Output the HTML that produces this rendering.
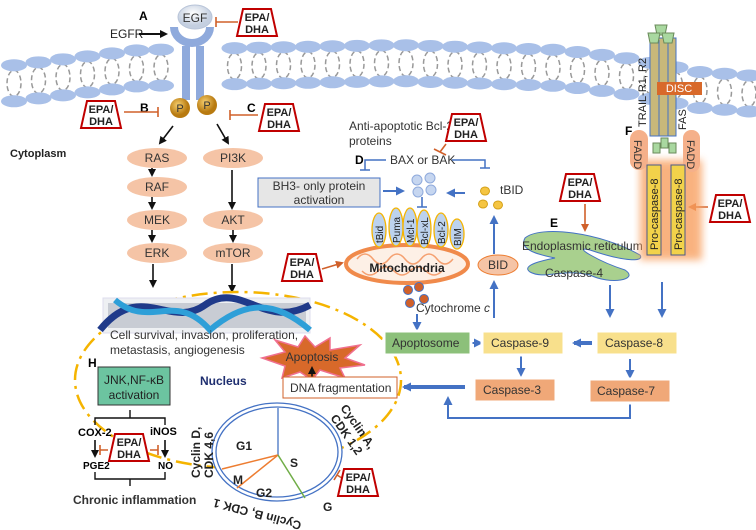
<!DOCTYPE html>
<html><head><meta charset="utf-8"><style>
html,body{margin:0;padding:0;background:#fff}
svg{display:block}
text{font-family:"Liberation Sans",sans-serif}
</style></head><body>
<svg id="s" width="756" height="530" viewBox="0 0 756 530" xmlns="http://www.w3.org/2000/svg">
<defs>
<marker id="ab" markerWidth="8" markerHeight="8" refX="6" refY="4" orient="auto" markerUnits="userSpaceOnUse"><path d="M0,0 L8,4 L0,8 z" fill="#111"/></marker>
<marker id="au" markerWidth="9" markerHeight="9" refX="7" refY="4.5" orient="auto" markerUnits="userSpaceOnUse"><path d="M0,0 L9,4.5 L0,9 z" fill="#4472c4"/></marker>
<marker id="ao" markerWidth="8" markerHeight="8" refX="6" refY="4" orient="auto" markerUnits="userSpaceOnUse"><path d="M0,0 L8,4 L0,8 z" fill="#d0602a"/></marker>
<radialGradient id="pg" cx="40%" cy="35%"><stop offset="0" stop-color="#f7d070"/><stop offset="1" stop-color="#b87a10"/></radialGradient>
<radialGradient id="eg" cx="45%" cy="35%"><stop offset="0" stop-color="#fff"/><stop offset="1" stop-color="#c4cfe0"/></radialGradient>
<filter id="bl"><feGaussianBlur stdDeviation="4"/></filter>
</defs>
<g id="mem"></g>

<!-- EGFR -->
<path d="M170,27 A22,20 0 0 0 214,27 L206,27 A14,12 0 0 1 178,27 Z" fill="#8faadc"/>
<ellipse cx="195" cy="17" rx="17" ry="12" fill="url(#eg)" stroke="#b8c4d8"/>
<text x="195" y="22" font-size="12" text-anchor="middle" fill="#333">EGF</text>
<rect x="182" y="46" width="8" height="54" fill="#8faadc"/>
<rect x="196" y="46" width="8" height="54" fill="#8faadc"/>
<circle cx="180" cy="108" r="10" fill="url(#pg)"/><text x="180" y="112" font-size="11" text-anchor="middle" fill="#333">P</text>
<circle cx="207" cy="105" r="10" fill="url(#pg)"/><text x="207" y="109" font-size="11" text-anchor="middle" fill="#333">P</text>
<text x="139" y="20" font-size="12" font-weight="bold">A</text>
<text x="110" y="38" font-size="12" fill="#222">EGFR</text>
<line x1="139" y1="34" x2="166" y2="34" stroke="#111" stroke-width="2" marker-end="url(#ab)"/>
<text x="140" y="112" font-size="12" font-weight="bold">B</text>
<text x="247" y="112" font-size="12" font-weight="bold">C</text>
<text x="10" y="157" font-size="11" font-weight="bold" fill="#222">Cytoplasm</text>

<!-- inhibitors -->
<g stroke="#d0602a" stroke-width="1.6" fill="none">
<path d="M238,22 H216 M216,17 V27"/>
<path d="M124,112 H158 M158,107 V117"/>
<path d="M258,115 H230 M230,110 V120"/>
<path d="M446,144 L440,152 M434,149 L446,155"/>
<path d="M100,450 H108 M100,445 V455"/>
<path d="M150,450 H158 M158,445 V455"/>
<path d="M345,480 L337,475 M334,480 L340,470"/>
</g>
<g stroke="#d0602a" stroke-width="1.6">
<line x1="322" y1="269" x2="342" y2="263" marker-end="url(#ao)"/>
<line x1="585" y1="204" x2="585" y2="230" marker-end="url(#ao)"/>
<line x1="708" y1="207" x2="690" y2="207" marker-end="url(#ao)"/>
</g>

<!-- pathway -->
<g fill="#f5c4a6">
<ellipse cx="157" cy="158" rx="30" ry="10"/><ellipse cx="157" cy="187" rx="30" ry="10"/>
<ellipse cx="157" cy="220" rx="30" ry="10"/><ellipse cx="157" cy="253" rx="30" ry="10"/>
<ellipse cx="233" cy="158" rx="30" ry="10"/><ellipse cx="233" cy="220" rx="30" ry="10"/>
<ellipse cx="233" cy="253" rx="30" ry="10"/>
</g>
<g font-size="12" text-anchor="middle" fill="#333">
<text x="157" y="162">RAS</text><text x="157" y="191">RAF</text><text x="157" y="224">MEK</text><text x="157" y="257">ERK</text>
<text x="233" y="162">PI3K</text><text x="233" y="224">AKT</text><text x="233" y="257">mTOR</text>
</g>
<g stroke="#111" stroke-width="1.6" marker-end="url(#ab)">
<line x1="173" y1="126" x2="160" y2="143"/><line x1="217" y1="124" x2="228" y2="143"/>
<line x1="152" y1="168" x2="152" y2="175"/><line x1="152" y1="197" x2="152" y2="208"/><line x1="152" y1="230" x2="152" y2="241"/>
<line x1="232" y1="170" x2="232" y2="208"/><line x1="233" y1="230" x2="233" y2="241"/>
<line x1="153" y1="264" x2="153" y2="286"/><line x1="232" y1="264" x2="232" y2="291"/>
</g>

<!-- nucleus -->
<ellipse cx="238" cy="380" rx="163" ry="88" fill="none" stroke="#f5b400" stroke-width="2.5" stroke-dasharray="16,6,3,6"/>
<rect x="103" y="298" width="207" height="35" fill="#eef0f3" stroke="#dde"/>
<rect x="108" y="303" width="198" height="25" fill="#c8ccd4"/>
<path d="M100,330 C140,280 170,330 205,305 C240,280 265,330 310,305" stroke="#1f3a8a" stroke-width="7" fill="none"/>
<path d="M115,300 C150,330 175,290 210,330 C245,300 275,300 310,330" stroke="#2e9fd8" stroke-width="6" fill="none"/>
<text x="110" y="339" font-size="12" fill="#333">Cell survival, invasion, proliferation,</text>
<text x="110" y="354" font-size="12" fill="#333">metastasis, angiogenesis</text>
<polygon points="262,358 285,352 275,340 298,347 305,336 315,347 330,338 330,350 360,345 345,358 365,365 340,368 345,378 320,370 312,380 300,372 282,378 285,366" fill="#d8692a" stroke="#f07090" stroke-width="1.5"/>
<text x="312" y="361" font-size="12" text-anchor="middle" fill="#333">Apoptosis</text>
<line x1="312" y1="377" x2="312" y2="368" stroke="#111" stroke-width="1.6" marker-end="url(#ab)"/>
<rect x="283" y="377" width="114" height="21" fill="#fff" stroke="#d0602a"/>
<text x="290" y="392" font-size="12" fill="#333">DNA fragmentation</text>
<text x="200" y="385" font-size="12" font-weight="bold" fill="#1f2f70">Nucleus</text>
<text x="88" y="367" font-size="12" font-weight="bold">H</text>
<rect x="98" y="367" width="72" height="38" fill="#6cc4a0" stroke="#333"/>
<text x="134" y="384" font-size="12" text-anchor="middle" fill="#222">JNK,NF-κB</text>
<text x="134" y="399" font-size="12" text-anchor="middle" fill="#222">activation</text>
<path d="M95,425 V418 H165 V425 M130,418 V410" stroke="#111" stroke-width="1.4" fill="none"/>
<text x="78" y="436" font-size="11" font-weight="bold">COX-2</text>
<text x="150" y="435" font-size="11" font-weight="bold">iNOS</text>
<line x1="95" y1="440" x2="95" y2="456" stroke="#111" stroke-width="1.6" marker-end="url(#ab)"/>
<line x1="165" y1="440" x2="165" y2="456" stroke="#111" stroke-width="1.6" marker-end="url(#ab)"/>
<text x="83" y="469" font-size="10" font-weight="bold">PGE2</text>
<text x="158" y="469" font-size="10" font-weight="bold">NO</text>
<path d="M95,472 V479 H165 V472 M130,479 V486" stroke="#111" stroke-width="1.4" fill="none"/>
<text x="73" y="504" font-size="12" font-weight="bold" fill="#333">Chronic inflammation</text>

<!-- cell cycle -->
<ellipse cx="277" cy="452" rx="65" ry="49" fill="#fff" stroke="#4472c4" stroke-width="1.3"/>
<ellipse cx="277" cy="452" rx="61" ry="45" fill="none" stroke="#4472c4" stroke-width="1.3"/>
<line x1="278" y1="455" x2="278" y2="408" stroke="#4472c4" stroke-width="1.3"/>
<line x1="278" y1="455" x2="222" y2="469" stroke="#ed7d31" stroke-width="1.5"/>
<line x1="278" y1="455" x2="237" y2="488" stroke="#ed7d31" stroke-width="1.5"/>
<line x1="278" y1="455" x2="305" y2="498" stroke="#70ad47" stroke-width="1.5"/>
<g font-size="12" font-weight="bold" fill="#222">
<text x="236" y="450">G1</text><text x="290" y="467">S</text><text x="233" y="484">M</text><text x="256" y="497">G2</text><text x="323" y="511">G</text>
<text transform="translate(200,478) rotate(-90)">Cyclin D,</text>
<text transform="translate(213,478) rotate(-90)">CDK 4,6</text>
<text transform="translate(340,408) rotate(55)">Cyclin A,</text>
<text transform="translate(330,418) rotate(55)">CDK 1,2</text>
<text transform="translate(302,522) rotate(195)">Cyclin B, CDK 1</text>
</g>

<!-- apoptosis right -->
<text x="349" y="130" font-size="12" fill="#333">Anti-apoptotic Bcl-2</text>
<text x="349" y="145" font-size="12" fill="#333">proteins</text>
<text x="355" y="164" font-size="12" font-weight="bold">D</text>
<text x="390" y="164" font-size="12" fill="#333">BAX or BAK</text>
<path d="M386,160 H365 V170 M360,170 H370 M452,160 H485 V168 M480,168 H490" stroke="#4472c4" stroke-width="1.5" fill="none"/>
<rect x="258" y="178" width="122" height="29" fill="#e6e6e6" stroke="#4472c4"/>
<text x="319" y="190" font-size="12" text-anchor="middle" fill="#333">BH3- only protein</text>
<text x="319" y="204" font-size="12" text-anchor="middle" fill="#333">activation</text>
<g fill="#c6d6f0" stroke="#8faadc"><circle cx="417" cy="180" r="5"/><circle cx="430" cy="178" r="5"/><circle cx="418" cy="192" r="5"/><circle cx="431" cy="190" r="5"/></g>
<g fill="#f5c542" stroke="#d4a017"><ellipse cx="485" cy="191" rx="4.5" ry="4"/><ellipse cx="483" cy="204" rx="4.5" ry="4"/><ellipse cx="498" cy="205" rx="4.5" ry="4"/></g>
<text x="500" y="194" font-size="12" fill="#333">tBID</text>
<g stroke="#4472c4" stroke-width="2" marker-end="url(#au)">
<line x1="383" y1="191" x2="403" y2="191"/><line x1="465" y1="193" x2="448" y2="193"/>
<line x1="494" y1="254" x2="494" y2="217"/><line x1="494" y1="318" x2="494" y2="282"/>
<line x1="417" y1="314" x2="417" y2="329"/><line x1="470" y1="343" x2="481" y2="343"/>
<line x1="521" y1="355" x2="521" y2="375"/><line x1="630" y1="359" x2="630" y2="377"/>
<line x1="610" y1="285" x2="610" y2="316"/><line x1="662" y1="282" x2="662" y2="316"/>
</g>
<g stroke="#4472c4" stroke-width="4" marker-end="url(#au)"><line x1="592" y1="343" x2="574" y2="343"/><line x1="465" y1="387" x2="404" y2="387"/></g>
<path d="M630,403 V418 H448 V398" stroke="#4472c4" stroke-width="2" fill="none" marker-end="url(#au)"/>
<path d="M422,197 V207 M417,207 H427" stroke="#4472c4" stroke-width="1.6"/>
<ellipse cx="407" cy="264" rx="61" ry="19" fill="#fdf0e6" stroke="#f08a4b" stroke-width="4"/>
<path d="M357,259 q8,-10 16,0 t16,0 t16,0 t16,0 t16,0 t16,0 M362,271 q8,8 16,0 t16,0 t16,0 t16,0 t16,0" stroke="#f5a070" fill="none" stroke-width="1.5"/>
<g fill="#bcd2ee" stroke="#f5b400" stroke-width="1.3">
<ellipse cx="379" cy="230" rx="7" ry="17"/><ellipse cx="396" cy="227" rx="7" ry="19"/><ellipse cx="410" cy="227" rx="7" ry="19"/>
<ellipse cx="424" cy="229" rx="7" ry="19"/><ellipse cx="441" cy="230" rx="7" ry="17"/><ellipse cx="457" cy="234" rx="7" ry="15"/>
</g>
<g font-size="10" fill="#222">
<text transform="translate(383,243) rotate(-90)">tBid</text><text transform="translate(400,243) rotate(-90)">Puma</text>
<text transform="translate(414,243) rotate(-90)">Mcl-1</text><text transform="translate(428,245) rotate(-90)">Bcl-xL</text>
<text transform="translate(445,244) rotate(-90)">Bcl-2</text><text transform="translate(461,246) rotate(-90)">BIM</text>
</g>
<text x="407" y="272" font-size="12" font-weight="bold" text-anchor="middle" fill="#222">Mitochondria</text>
<g fill="#d0602a" stroke="#4472c4"><circle cx="408" cy="290" r="4.5"/><circle cx="419" cy="287" r="4.5"/><circle cx="410" cy="303" r="4.5"/><circle cx="424" cy="299" r="4.5"/></g>
<text x="416" y="312" font-size="12" fill="#333">Cytochrome <tspan font-style="italic">c</tspan></text>
<ellipse cx="498" cy="265" rx="20" ry="10" fill="#f5c4a6" stroke="#ed7d31"/>
<text x="498" y="269" font-size="12" text-anchor="middle" fill="#333">BID</text>

<!-- boxes -->
<g stroke="#fff" stroke-width="3">
<rect x="384" y="331" width="87" height="24" fill="#8cc07a"/>
<rect x="482" y="331" width="82" height="24" fill="#f8e08c"/>
<rect x="596" y="331" width="82" height="24" fill="#f8e08c"/>
<rect x="474" y="378" width="82" height="24" fill="#f0a878"/>
<rect x="589" y="379" width="82" height="24" fill="#f0a878"/>
</g>
<g font-size="12" fill="#333">
<text x="392" y="347">Apoptosome</text><text x="491" y="347">Caspase-9</text><text x="605" y="347">Caspase-8</text>
<text x="483" y="394">Caspase-3</text><text x="597" y="395">Caspase-7</text>
</g>

<!-- ER -->
<path d="M525,238 C540,225 600,232 640,255 C645,262 625,262 590,250 C570,245 600,262 625,270 C640,280 610,285 590,275 C560,268 545,280 530,272 C520,265 545,260 555,258 C540,255 518,250 525,238 Z" fill="#a9d08e" stroke="#4472c4"/>
<text x="550" y="227" font-size="12" font-weight="bold">E</text>
<text x="522" y="250" font-size="12" fill="#333">Endoplasmic reticulum</text>
<text x="545" y="277" font-size="12" fill="#333">Caspase-4</text>

<!-- receptor -->
<rect x="640" y="160" width="62" height="100" fill="#f8a060" filter="url(#bl)" opacity="0.8"/>
<rect x="650" y="38" width="26" height="98" fill="#c8b87a" stroke="#4472c4"/>
<line x1="659" y1="40" x2="659" y2="136" stroke="#4472c4"/><line x1="668" y1="40" x2="668" y2="136" stroke="#4472c4"/>
<g fill="#a9d8a0" stroke="#6a8a5a"><path d="M655,25 h12 l-2,10 h-8 z"/><path d="M648,33 h12 l-2,10 h-8 z"/><path d="M662,33 h12 l-2,10 h-8 z"/>
<rect x="653" y="143" width="7" height="10"/><rect x="661" y="138" width="7" height="10"/><rect x="669" y="143" width="7" height="10"/></g>
<rect x="657" y="82" width="45" height="13" fill="#d8692a"/>
<text x="679" y="92" font-size="11" text-anchor="middle" fill="#fff">DISC</text>
<text transform="translate(646,127) rotate(-90)" font-size="11" fill="#222">TRAIL-R1, R2</text>
<text transform="translate(686,130) rotate(-90)" font-size="11" fill="#222">FAS</text>
<text x="625" y="135" font-size="12" font-weight="bold">F</text>
<rect x="630" y="130" width="18" height="40" rx="9" fill="#f5b08a"/>
<rect x="683" y="130" width="17" height="42" rx="8" fill="#f5b08a"/>
<text transform="translate(634,140) rotate(90)" font-size="11" fill="#333">FADD</text>
<text transform="translate(687,140) rotate(90)" font-size="11" fill="#333">FADD</text>
<rect x="647" y="165" width="14" height="90" fill="#f2d24a" stroke="#4a5a8a"/>
<rect x="671" y="165" width="14" height="90" fill="#f2d24a" stroke="#4a5a8a"/>
<text transform="translate(658,250) rotate(-90)" font-size="11" fill="#222">Pro-caspase-8</text>
<text transform="translate(682,250) rotate(-90)" font-size="11" fill="#222">Pro-caspase-8</text>

<g id="epa"></g>
</svg>
<script>
var ns="http://www.w3.org/2000/svg",m=document.getElementById("mem");
function mt(x){var p=[[0,67],[140,50],[400,45],[560,50],[620,57],[700,72],[756,76]];for(var i=0;i<p.length-1;i++){if(x<=p[i+1][0]){var t=(x-p[i][0])/(p[i+1][0]-p[i][0]);return p[i][1]+t*(p[i+1][1]-p[i][1]);}}return 76;}
function el(t,a){var e=document.createElementNS(ns,t);for(var k in a)e.setAttribute(k,a[k]);m.appendChild(e);return e;}
for(var x=14;x<760;x+=24.5){if(x>166&&x<214)continue;var y=mt(x);
el("ellipse",{cx:x,cy:y+18,rx:7,ry:13,fill:"none",stroke:"#999","stroke-width":1.5,"stroke-dasharray":"5,3"});
el("ellipse",{cx:x,cy:y,rx:13,ry:6,fill:"#a9c0e8"});
el("ellipse",{cx:x,cy:y+36,rx:13,ry:6,fill:"#a9c0e8"});}
var g=document.getElementById("epa");
[[257,22],[101,114],[279,117],[466,127],[580,187],[730,208],[302,267],[129,447],[358,482]].forEach(function(p){
var c=p[0],y=p[1],e;e=document.createElementNS(ns,"polygon");
e.setAttribute("points",(c-14)+","+(y-13)+" "+(c+14)+","+(y-13)+" "+(c+20)+","+(y+14)+" "+(c-20)+","+(y+14));
e.setAttribute("fill","#fff");e.setAttribute("stroke","#c00000");e.setAttribute("stroke-width","2");g.appendChild(e);
["EPA/","DHA"].forEach(function(s,i){var t=document.createElementNS(ns,"text");t.setAttribute("x",c);t.setAttribute("y",y-1+i*12);
t.setAttribute("font-size","11");t.setAttribute("font-weight","bold");t.setAttribute("text-anchor","middle");t.setAttribute("fill","#222");t.textContent=s;g.appendChild(t);});});
</script>
</body></html>
